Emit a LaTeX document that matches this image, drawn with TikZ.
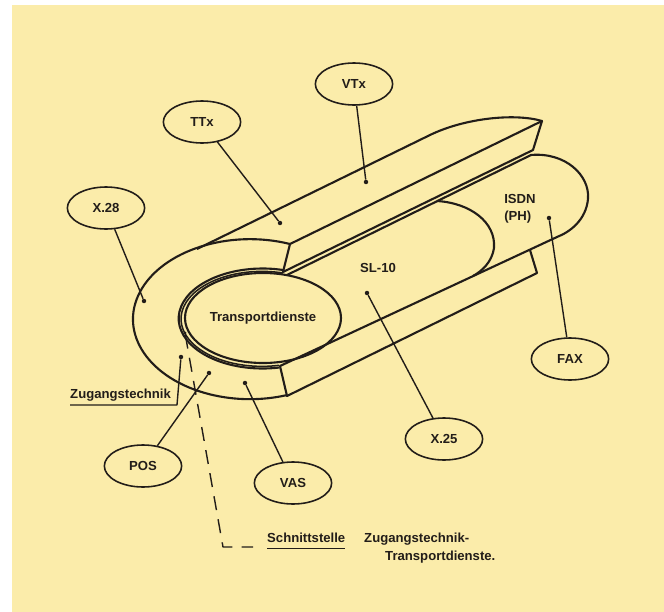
\documentclass[tikz,border=0pt]{standalone}
\usepackage{fontspec}
\setmainfont{Liberation Sans}
\usetikzlibrary{shapes.geometric}
\definecolor{paper}{RGB}{251,236,170}
\definecolor{ink}{RGB}{34,29,25}

\begin{document}
\begin{tikzpicture}[x=0.03cm, y=-0.03cm, line join=round,
        shapeline/.style={draw=ink, line width=1.8pt},
        bubble/.style={draw=ink, line width=1.35pt, ellipse, minimum width=2.32cm, minimum height=1.26cm, inner sep=0pt, text=ink, font=\fontsize{11.2}{13}\selectfont\bfseries},
        lead/.style={draw=ink, line width=1.2pt},
        tipdot/.style={circle, fill=ink, inner sep=0pt, minimum size=3.8pt},
        txt/.style={text=ink, inner sep=0pt, font=\fontsize{11.2}{14.5}\selectfont\bfseries}]
        \fill[white] (0,0) rectangle (664,612);
        \fill[paper] (12,5) rectangle (664,612);
        \useasboundingbox (0,0) rectangle (664,612);

        \draw[shapeline] (197,249) -- (430,135) .. controls (465,118) and (515,113) .. (542,121) -- (533,150) -- (283,272);
        \draw[shapeline] (542,121) -- (290,244) -- (283,272);
        \draw[shapeline] (287,275) -- (531,155) .. controls (565,152) and (590,175) .. (588,199) .. controls (586,220) and (570,232) .. (557,237) -- (280,366) -- (287,396) -- (537,273) -- (530,250);
        \draw[shapeline] (290,244) arc[start angle=-70, end angle=-288.5, x radius=117, y radius=80];
        \draw[shapeline] (283,270) arc[start angle=-76, end angle=-281.5, x radius=84, y radius=50];
        \draw[shapeline, line width=1.3pt] (283,273) arc[start angle=-75, end angle=-282, x radius=81, y radius=47.5];
        \draw[shapeline] (437,201) .. controls (470,203) and (496,222) .. (494,248) .. controls (492,262) and (482,271) .. (473,276);

        \node[shapeline, ellipse, minimum width=4.68cm, minimum height=2.7cm, inner sep=0pt, txt] (transport) at (263,318) {Transportdienste};
        \node[txt] (sl10) at (378,268) {SL-10};
        \node[txt, align=left] (isdn) at (520,209) {ISDN\\(PH)};

        \node[bubble] (vtx) at (354,84) {VTx};
        \node[bubble] (ttx) at (202,122) {TTx};
        \node[bubble] (x28) at (106,208) {X.28};
        \node[bubble] (fax) at (570,359) {FAX};
        \node[bubble] (x25) at (444,439) {X.25};
        \node[bubble] (pos) at (143,466) {POS};
        \node[bubble] (vas) at (293,483) {VAS};

        \node[tipdot] (dvtx) at (366,182) {};
        \node[tipdot] (dttx) at (280,223) {};
        \node[tipdot] (dx28) at (144,301) {};
        \node[tipdot] (dfax) at (549,218) {};
        \node[tipdot] (dx25) at (367,293) {};
        \node[tipdot] (dpos) at (209,373) {};
        \node[tipdot] (dvas) at (245,383) {};
        \node[tipdot] (dzug) at (181,357) {};
        \node[tipdot, minimum size=2.6pt] (dcut) at (185,333) {};

        \draw[lead] (vtx) -- (dvtx);
        \draw[lead] (ttx) -- (dttx);
        \draw[lead] (x28) -- (dx28);
        \draw[lead] (fax) -- (dfax);
        \draw[lead] (x25) -- (dx25);
        \draw[lead] (pos) -- (dpos);
        \draw[lead] (vas) -- (dvas);

        \node[txt, anchor=base west] (zug) at (70,398.5) {Zugangstechnik};
        \coordinate (zugk) at (177,405);
        \draw[lead] (dzug) -- (zugk) -- (zugk -| zug.west);

        \node[txt, anchor=base west] (schnitt) at (267,542) {Schnittstelle};
        \node[txt, anchor=base west] (zugtr) at (364,542) {Zugangstechnik-};
        \node[txt, anchor=base west] (transtr) at (385,560.5) {Transportdienste.};
        \draw[lead] ([yshift=-0.19cm]schnitt.base west) -- ([yshift=-0.19cm]schnitt.base east);
        \coordinate (cutk) at (223,547);
        \coordinate (cutend) at (253,547);
        \draw[lead, dash pattern=on 12pt off 8pt] (dcut) -- (cutk) -- (cutend);
    \end{tikzpicture}
\end{document}
